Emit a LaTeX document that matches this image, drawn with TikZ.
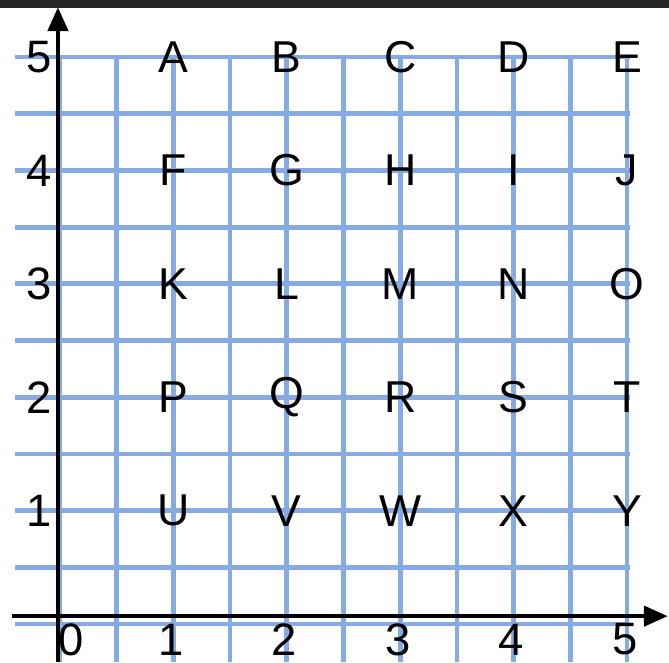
\documentclass[tikz,border=0pt]{standalone}
\usepackage{fontspec}
\setmainfont{Liberation Sans}
\usetikzlibrary{arrows.meta}

\definecolor{gridblue}{RGB}{134,170,226}

\begin{document}
\begin{tikzpicture}[
    >={Triangle[length=6pt,width=5pt]},
    gridline/.style={gridblue, line width=1.2pt},
    axis/.style={black, line width=1.1pt, ->},
    letter/.style={font=\fontsize{11.2}{13}\selectfont, inner sep=0pt},
    ticklabel/.style={font=\fontsize{11.4}{13}\selectfont, inner sep=0pt}
]

% picture frame: x = (px-60)/113.4, y = (624-py)/113.4
\useasboundingbox (-0.529,-0.335) rectangle (5.370,5.503);
\fill[black!85] (-0.529,5.43) rectangle (5.370,5.503);

% ---- half-unit grid ----
\foreach \k in {0,...,10} {
  \draw[gridline] (-0.40,{\k/2}) -- (5.03,{\k/2});
  \draw[gridline] ({\k/2},5.02) -- ({\k/2},-0.335);
}

% ---- axes ----
\coordinate (ybot) at (-0.018,-0.335);
\coordinate (ytop) at (-0.018,5.44);
\coordinate (xleft) at (-0.423,0.07);
\coordinate (xright) at (5.36,0.07);
\draw[axis] (ybot) -- (ytop);
\draw[axis] (xleft) -- (xright);

% ---- tick labels ----
\foreach \k in {1,...,5} {
  \node[ticklabel] (ylab\k) at (-0.18,\k) {\k};
}
\node[ticklabel] (xlab0) at (0.10,-0.135) {0};
\foreach \k in {1,...,5} {
  \node[ticklabel] (xlab\k) at (\k-0.02,-0.135) {\k};
}

% ---- letters on the grid points ----
\foreach \l [count=\i from 0] in {A,B,C,D,E,F,G,H,I,J,K,L,M,N,O,P,Q,R,S,T,U,V,W,X,Y} {
  \pgfmathtruncatemacro{\col}{mod(\i,5)+1}
  \pgfmathtruncatemacro{\row}{5-int(\i/5)}
  \node[letter] (pt\l) at (\col,\row) {\l};
}

\end{tikzpicture}
\end{document}
